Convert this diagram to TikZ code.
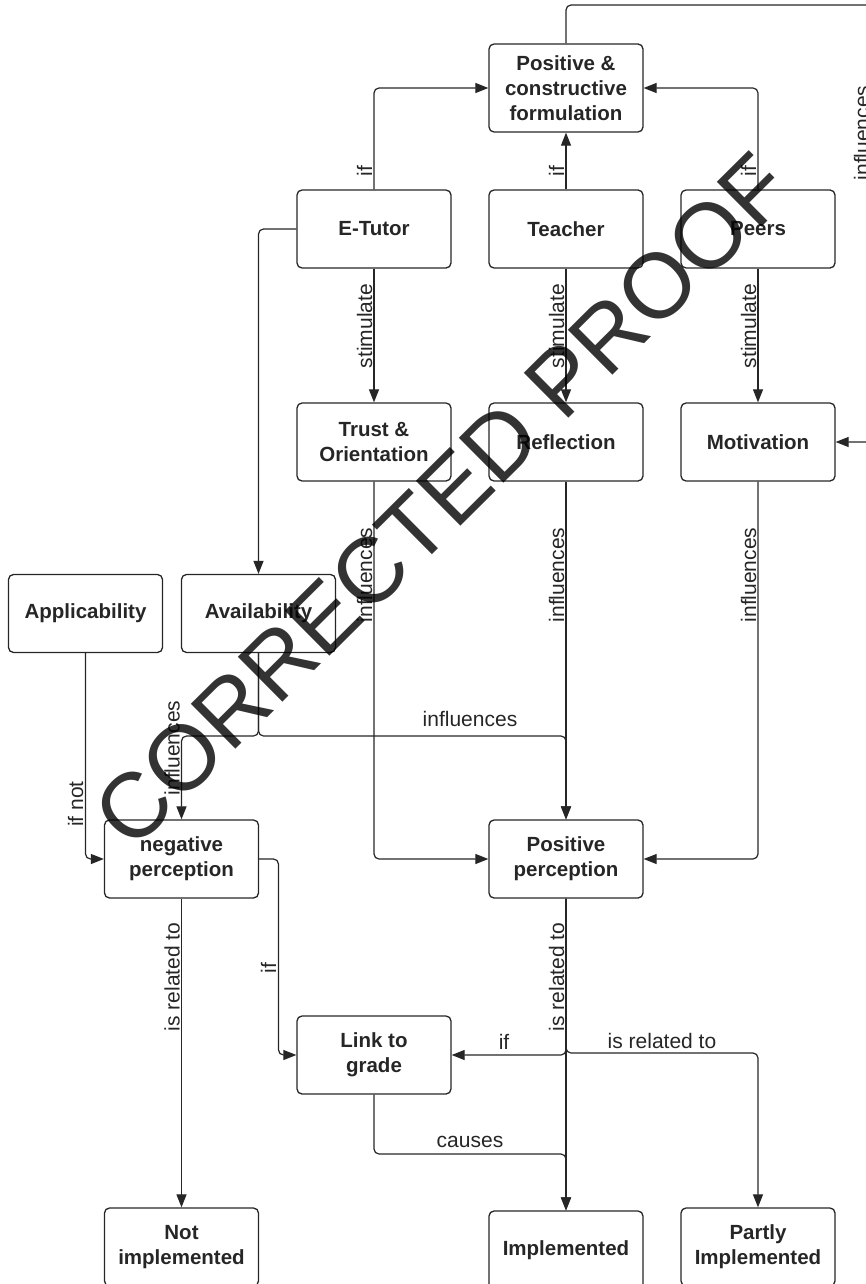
\documentclass[tikz,border=0pt]{standalone}
\usepackage{fontspec}
\setmainfont{Liberation Sans}
\usetikzlibrary{arrows.meta}
\definecolor{ink}{HTML}{262626}
\begin{document}
\begin{tikzpicture}[x=1pt,y=-1pt,
  box/.style={draw=ink, line width=1.3pt, rounded corners=5pt, minimum width=154pt, minimum height=78pt,
    align=center, font=\fontsize{20.5}{25}\selectfont\bfseries, inner sep=2pt, text=ink},
  arr/.style={draw=ink, line width=1.2pt, rounded corners=5pt, -{Triangle[length=13pt,width=10pt]}},
  lbl/.style={font=\fontsize{21}{25}\selectfont, text=ink, inner sep=0pt},
  vl/.style={lbl, rotate=90, anchor=base},
  hl/.style={lbl, anchor=base},
]
\clip (0,0) rectangle (866,1284);
% nodes
\node[box, minimum height=88pt] (pcf) at (566,88) {Positive \&\\constructive\\formulation};
\node[box] (et) at (374,229) {E-Tutor};
\node[box] (te) at (566,229) {Teacher};
\node[box] (pe) at (758,229) {Peers};
\node[box] (tr) at (374,442) {Trust \&\\Orientation};
\node[box] (re) at (566,442) {Reflection};
\node[box] (mo) at (758,442) {Motivation};
\node[box] (ap) at (85.5,613.5) {Applicability};
\node[box] (av) at (258.5,613.5) {Availability};
\node[box] (ne) at (181.5,859) {negative\\perception};
\node[box] (pp) at (566,859) {Positive\\perception};
\node[box] (lg) at (374,1055) {Link to\\grade};
\node[box] (ni) at (181.5,1247) {Not\\implemented};
\node[box] (im) at (566,1250) {Implemented};
\node[box] (pi) at (758,1247) {Partly\\Implemented};
% connectors
\coordinate (rt) at (872,5);
\draw[arr] (pcf.north) |- (rt) |- (mo.east);
\node[vl] (l0) at (869,133) {influences};
\draw[arr] (et.north) |- (pcf.west);
\node[vl] (l1) at (372,171) {if};
\draw[arr] (te.north) -- (pcf.south);
\node[vl] (l2) at (564,171) {if};
\draw[arr] (pe.north) |- (pcf.east);
\node[vl] (l3) at (756,171) {if};
\draw[arr] (et.south) -- (tr.north);
\node[vl] (l4) at (372,326) {stimulate};
\draw[arr] (te.south) -- (re.north);
\node[vl] (l5) at (564,326) {stimulate};
\draw[arr] (pe.south) -- (mo.north);
\node[vl] (l6) at (756,326) {stimulate};
\draw[arr] (et.west) -| (av.north);
\draw[arr] (tr.south) |- (pp.west);
\node[vl] (l7) at (372,575) {influences};
\draw[arr] (re.south) -- (pp.north);
\node[vl] (l8) at (564,575) {influences};
\draw[arr] (mo.south) |- (pp.east);
\node[vl] (l9) at (756,575) {influences};
\coordinate (avj) at (258.5,736);
\draw[arr] (av.south) -- (avj) -| (ne.north);
\node[vl] (l10) at (179.5,748) {influences};
\draw[arr] (av.south) -- (avj) -| (pp.north);
\node[hl] (l11) at (470,726) {influences};
\draw[arr] (ap.south) |- (ne.west);
\node[vl] (l12) at (83,804) {if not};
\draw[arr] (ne.south) -- (ni.north);
\node[vl] (l13) at (179.5,977) {is related to};
\coordinate (nj) at (278.5,859);
\draw[arr] (ne.east) -- (nj) |- (lg.west);
\node[vl] (l14) at (276,968) {if};
\coordinate (pj) at (566,1055);
\draw[arr] (pp.south) -- (pj) -- (lg.east);
\node[hl] (l15) at (504,1049) {if};
\coordinate (pk) at (566,1053);
\draw[arr] (pp.south) -- (pk) -| (pi.north);
\node[hl] (l16) at (662,1048) {is related to};
\draw[arr] (pp.south) -- (im.north);
\node[vl] (l17) at (564,977) {is related to};
\coordinate (lk) at (566,1154);
\draw[arr] (lg.south) |- (lk) -- (im.north);
\node[hl] (l18) at (470,1147) {causes};
% watermark
\node[rotate=44.8, font=\fontsize{92}{92}\selectfont, text=black, text opacity=0.8, inner sep=0pt] (wm) at (442,500) {CORRECTED PROOF};
\end{tikzpicture}
\end{document}
